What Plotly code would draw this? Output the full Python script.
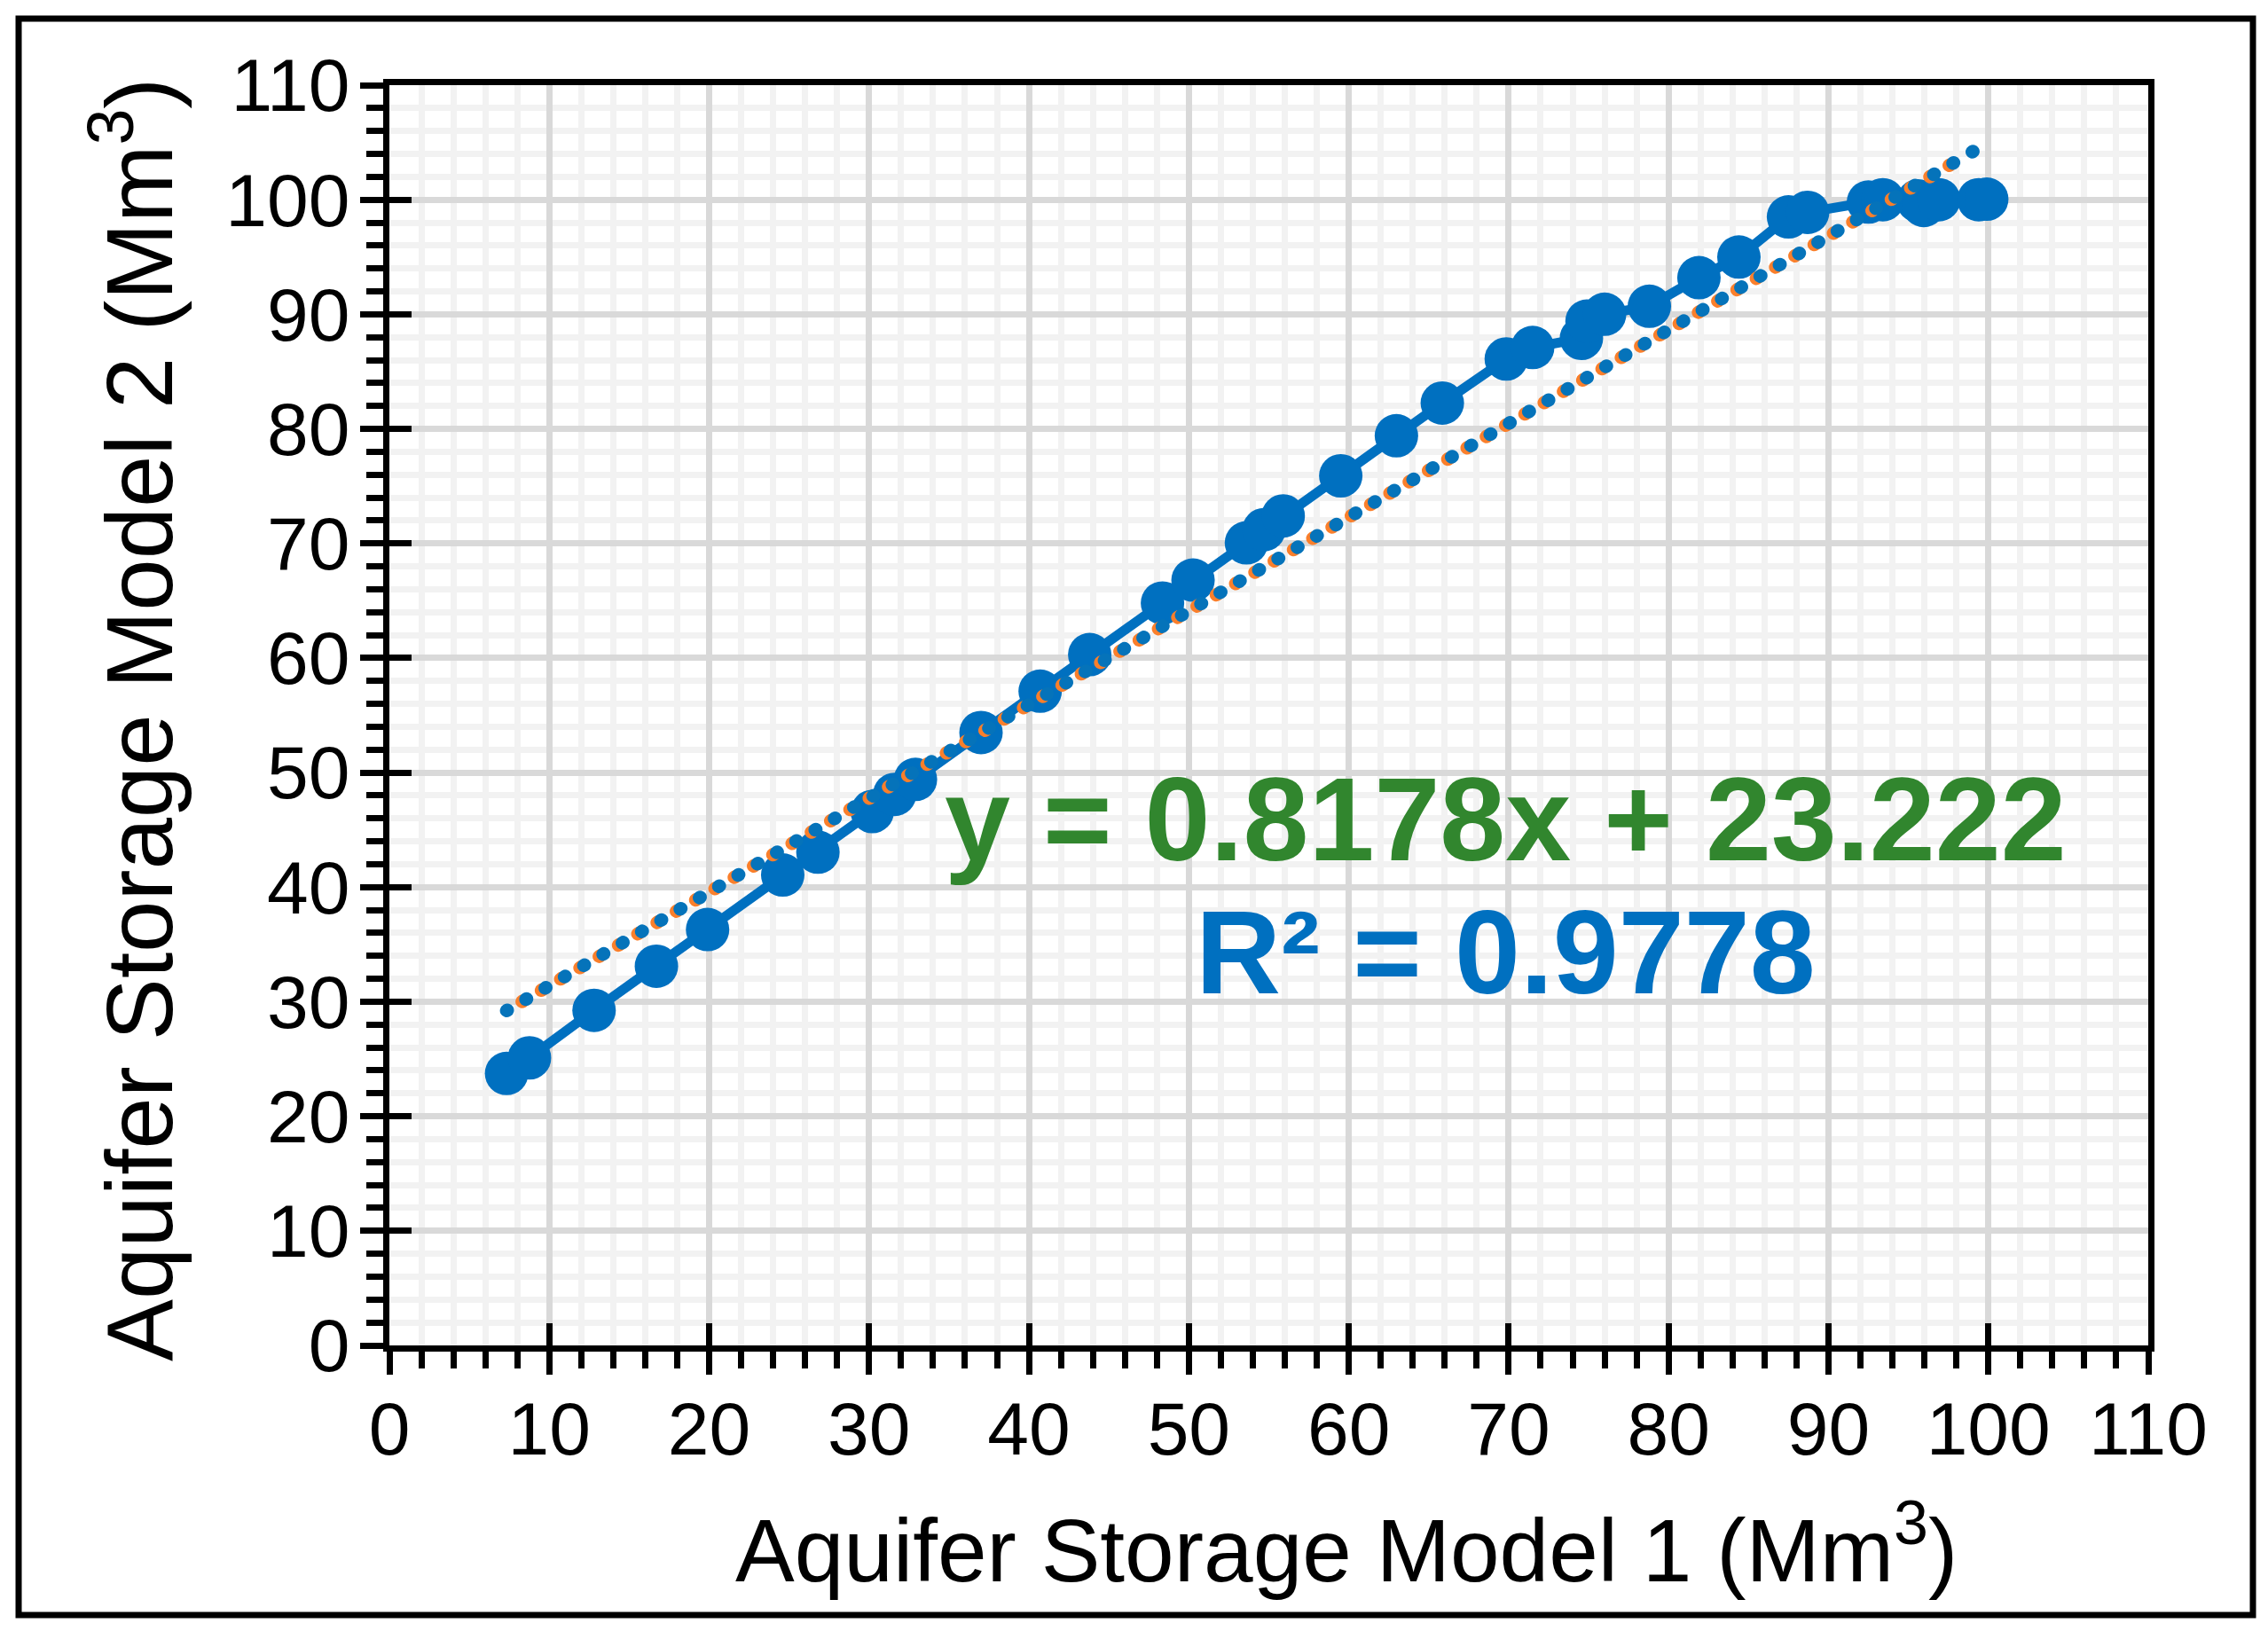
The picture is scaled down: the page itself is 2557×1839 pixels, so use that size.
import plotly.graph_objects as go

# ---------------- data ----------------
model1 = [7.33, 8.76, 12.8, 16.7, 19.9, 24.6, 26.8, 30.2, 31.6, 32.9,
          37.0, 40.7, 43.8, 48.35, 50.26, 53.6, 54.7, 55.9, 59.5, 62.98,
          65.85, 69.85, 71.5, 74.55, 74.9, 76.0, 78.8, 81.9, 84.4, 87.5,
          88.7, 92.5, 93.4, 95.6, 95.96, 96.9, 99.4, 99.9]
model2 = [23.74, 25.1, 29.25, 33.1, 36.3, 41.06, 43.05, 46.6, 48.1, 49.4,
          53.5, 57.1, 60.3, 64.8, 66.8, 70.05, 71.2, 72.4, 75.9, 79.4,
          82.25, 86.1, 87.1, 87.9, 89.4, 90.0, 90.7, 93.2, 95.0, 98.5,
          98.9, 99.8, 100.0, 99.9, 99.5, 100.0, 100.0, 100.05]

trend_slope = 0.8178
trend_intercept = 23.222
trend_r2 = 0.9778
orange_trend_x = [8.3, 98.6]

tick_vals = [0, 10, 20, 30, 40, 50, 60, 70, 80, 90, 100, 110]
tick_text = [str(v) for v in tick_vals]

x_title = "Aquifer Storage Model 1 (Mm<sup>3</sup>)"
y_title = "Aquifer Storage Model 2 (Mm<sup>3</sup>)"

# ---------------- styling ----------------
W, H = 2557, 1839
L, R, T, B = 439, 135, 96, 322
PW, PH = W - L - R, H - T - B
FONT = "Liberation Sans, Arial, sans-serif"
BLUE = "#0070C0"
TBLUE = "#0573BA"
ORANGE = "#FA7F2B"
GREEN = "#31862E"
AXW = 6.5


def px_x(px):
    return (px - L) / PW


def px_y(py):
    return (H - B - py) / PH


def trend(xs):
    return [trend_slope * v + trend_intercept for v in xs]


blue_trend_x = [min(model1), max(model1)]

fig = go.Figure()

fig.add_trace(go.Scatter(
    x=model1, y=model2, mode="lines+markers",
    line=dict(color=BLUE, width=11),
    marker=dict(color=BLUE, size=49, line=dict(width=0)),
    showlegend=False, hoverinfo="skip"))

fig.add_trace(go.Scatter(
    x=orange_trend_x, y=trend(orange_trend_x), mode="lines",
    line=dict(color=ORANGE, width=15, dash="1px,24.2px"),
    showlegend=False, hoverinfo="skip"))

fig.add_trace(go.Scatter(
    x=blue_trend_x, y=trend(blue_trend_x), mode="lines",
    line=dict(color=TBLUE, width=15, dash="1px,24.2px"),
    showlegend=False, hoverinfo="skip"))

# empty trace on overlay axes (used only for inward major ticks)
fig.add_trace(go.Scatter(x=[None], y=[None], xaxis="x2", yaxis="y2",
                         showlegend=False, hoverinfo="skip"))

common = dict(
    range=[0, 110], tickmode="array", tickvals=tick_vals, ticktext=tick_text,
    ticks="outside", ticklen=26, tickwidth=AXW, tickcolor="black",
    showline=True, linecolor="black", linewidth=AXW, mirror=True,
    showgrid=True, gridcolor="#D9D9D9", gridwidth=AXW, zeroline=False,
    tickfont=dict(family=FONT, size=84, color="black"),
    minor=dict(dtick=2, tick0=0, ticks="outside", ticklen=19,
               tickwidth=AXW, tickcolor="black", showgrid=True,
               gridcolor="#F2F2F2", gridwidth=AXW),
)
fig.update_layout(xaxis=dict(common, ticklabelstandoff=-11),
                  yaxis=dict(common, ticklabelstandoff=-5))

inward = dict(range=[0, 110], tickmode="array", tickvals=tick_vals,
              ticks="inside", ticklen=25, tickwidth=AXW, tickcolor="black",
              showticklabels=False, showgrid=False, showline=False,
              zeroline=False)
fig.update_layout(
    xaxis2=dict(inward, overlaying="x", anchor="y", side="bottom"),
    yaxis2=dict(inward, overlaying="y", anchor="x", side="left"),
)

annotations = [
    dict(x=69.8, y=45.9, xref="x", yref="y",
         text=f"y = {trend_slope}x + {trend_intercept}", showarrow=False,
         font=dict(family=FONT, size=133, color=GREEN, weight="bold"),
         xanchor="center", yanchor="middle"),
    dict(x=69.8, y=34.3, xref="x", yref="y",
         text=f"R\u00b2 = {trend_r2}", showarrow=False,
         font=dict(family=FONT, size=133, color=BLUE, weight="bold"),
         xanchor="center", yanchor="middle"),
    dict(x=px_x(1518), y=px_y(1741), xref="paper", yref="paper",
         text=x_title, showarrow=False,
         font=dict(family=FONT, size=100, color="black"),
         xanchor="center", yanchor="middle"),
    dict(x=px_x(150), y=px_y(812), xref="paper", yref="paper",
         text=y_title, showarrow=False, textangle=-90,
         font=dict(family=FONT, size=105, color="black"),
         xanchor="center", yanchor="middle"),
]

fig.update_layout(
    width=W, height=H,
    margin=dict(l=L, r=R, t=T, b=B, pad=0),
    paper_bgcolor="white", plot_bgcolor="white",
    annotations=annotations,
    shapes=[dict(type="rect", xref="paper", yref="paper",
                 x0=px_x(21), x1=px_x(2540), y0=px_y(1821), y1=px_y(21),
                 line=dict(color="black", width=7), layer="above")],
    showlegend=False,
)

post = """
document.body.style.margin = '0';
document.body.style.padding = '0';
document.body.style.overflow = 'hidden';
var gd = document.getElementById('{plot_id}');
function fixcaps(){
  gd.querySelectorAll('.scatterlayer .js-line').forEach(function(p){
    var d = p.style.strokeDasharray;
    if (d && d !== 'none') { p.style.strokeLinecap = 'round'; }
  });
}
fixcaps();
gd.on('plotly_afterplot', fixcaps);
"""

fig.write_html("out.html", post_script=post, config={"displayModeBar": False})
